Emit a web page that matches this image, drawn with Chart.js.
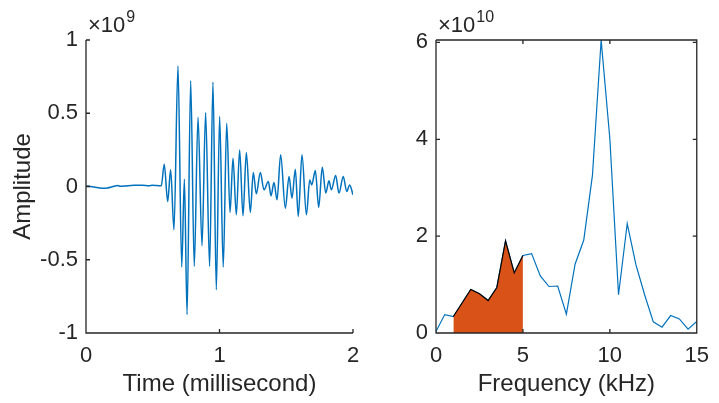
<!DOCTYPE html>
<html>
<head>
<meta charset="utf-8">
<title>Signal and spectrum</title>
<script src="https://cdn.jsdelivr.net/npm/chart.js@4.4.1/dist/chart.umd.min.js"></script>
<style>
  html, body { margin: 0; padding: 0; background: #fff; }
  #wrap { position: relative; width: 719px; height: 403px; overflow: hidden; }
  canvas { position: absolute; top: 0; }
  #c-time { left: 0; width: 370px; height: 403px; }
  #c-freq { left: 370px; width: 349px; height: 403px; }
</style>
</head>
<body>
<div id="wrap">
  <canvas id="c-time" width="370" height="403"></canvas>
  <canvas id="c-freq" width="349" height="403"></canvas>
</div>
<script>
// ---- time signal (amplitude in units of 1e9) ----
const timeMs = [
  0, 0.06, 0.122, 0.16, 0.21, 0.235, 0.26, 0.297, 0.36, 0.422, 0.472, 0.497, 0.534, 0.564,
  0.586, 0.612, 0.634, 0.659, 0.689, 0.717, 0.737, 0.757, 0.784, 0.811, 0.839, 0.869,
  0.896, 0.926, 0.951, 0.976, 1.001, 1.028, 1.054, 1.079, 1.101, 1.126, 1.151, 1.176,
  1.201, 1.231, 1.253, 1.276, 1.306, 1.333, 1.366, 1.386, 1.408, 1.431, 1.458, 1.493,
  1.521, 1.543, 1.568, 1.590, 1.618, 1.651, 1.676, 1.691, 1.718, 1.743, 1.770, 1.796,
  1.820, 1.838, 1.870, 1.895, 1.927, 1.953, 1.975, 2.0
];
const ampE9 = [
  0.004, -0.004, -0.012, -0.010, 0.001, 0.006, 0.001, 0.004, 0.008, 0.008, 0.005, 0.008, 0.006, 0.005,
  0.152, -0.102, 0.114, -0.295, 0.822, -0.549, 0.05, -0.874, 0.722, -0.545, 0.472, -0.404,
  0.504, -0.545, 0.711, -0.704, 0.477, -0.549, 0.431, -0.177, 0.193, -0.193, 0.25, -0.2,
  0.232, -0.177, 0.095, -0.05, 0.095, -0.023, 0.034, -0.064, 0.027, -0.091, 0.216, -0.148,
  0.068, -0.08, 0.118, -0.204, 0.216, -0.193, 0.045, 0.011, 0.109, -0.143, 0.132, -0.045,
  0.039, -0.023, 0.075, -0.045, 0.068, -0.034, 0.011, -0.057
];
const timeTicks = [0, 1, 2];
const ampTicks = [-1, -0.5, 0, 0.5, 1];

// ---- spectrum (power in units of 1e10) ----
const freqKHz = [
  0, 0.5, 1, 1.5, 2, 2.5, 3, 3.5, 4, 4.5, 5, 5.5, 6, 6.5, 7, 7.5,
  8, 8.5, 9, 9.5, 10, 10.5, 11, 11.5, 12, 12.5, 13, 13.5, 14, 14.5, 15
];
const powerE10 = [
  0.03, 0.38, 0.34, 0.62, 0.90, 0.81, 0.67, 0.94, 1.90, 1.24, 1.60, 1.64, 1.18, 0.96, 0.97, 0.39,
  1.42, 1.92, 3.26, 6.05, 4.01, 0.79, 2.26, 1.41, 0.79, 0.23, 0.12, 0.36, 0.29, 0.08, 0.24
];
const bandKHz = [1, 5];          // shaded band
const freqTicks = [0, 5, 10, 15];
const powerTicks = [0, 2, 4, 6];

const FONT = "'Liberation Sans', Arial, Helvetica, sans-serif";
const INK = '#262626';
const BLUE = '#0072BD';
const ORANGE = '#D95319';

const pts = (xs, ys) => xs.map((x, i) => ({ x, y: ys[i] }));

// axes lines, inward ticks and the x10^n multiplier
const matlabAxes = {
  id: 'matlabAxes',
  afterDraw(chart, args, opts) {
    const { ctx, chartArea: a, scales: { x, y } } = chart;
    const len = 4;
    ctx.save();
    ctx.strokeStyle = INK;
    ctx.lineWidth = 1.3;
    ctx.beginPath();
    ctx.moveTo(a.left, a.top); ctx.lineTo(a.left, a.bottom); ctx.lineTo(a.right, a.bottom);
    if (opts.box) { ctx.lineTo(a.right, a.top); ctx.lineTo(a.left, a.top); }
    x.ticks.forEach(t => {
      const p = x.getPixelForValue(t.value);
      ctx.moveTo(p, a.bottom); ctx.lineTo(p, a.bottom - len);
      if (opts.box) { ctx.moveTo(p, a.top); ctx.lineTo(p, a.top + len); }
    });
    y.ticks.forEach(t => {
      const p = y.getPixelForValue(t.value);
      ctx.moveTo(a.left, p); ctx.lineTo(a.left + len, p);
      if (opts.box) { ctx.moveTo(a.right, p); ctx.lineTo(a.right - len, p); }
    });
    ctx.stroke();

    if (opts.exponent) {
      ctx.fillStyle = INK;
      ctx.textBaseline = 'alphabetic';
      ctx.textAlign = 'left';
      ctx.font = '22px ' + FONT;
      const base = '\u00d710';
      ctx.fillText(base, a.left + 2, 32);
      const w = ctx.measureText(base).width;
      ctx.font = '16px ' + FONT;
      ctx.fillText(opts.exponent, a.left + 3 + w, 22);
    }
    ctx.restore();
  }
};

function fixWidth(w) { return s => { s.width = w; }; }
function fixHeight(h) { return s => { s.height = h; }; }

function axisOpts(min, max, ticks, title, size, horizontal) {
  return {
    type: 'linear',
    min, max,
    grid: { display: false, drawTicks: false },
    border: { display: false },
    afterBuildTicks: s => { s.ticks = ticks.map(v => ({ value: v })); },
    afterFit: horizontal ? fixHeight(size) : fixWidth(size),
    ticks: {
      color: INK,
      padding: horizontal ? 10 : 8,
      font: { family: FONT, size: 22 },
      maxRotation: 0,
      callback: v => String(v)
    },
    title: {
      display: true,
      text: title,
      color: INK,
      font: { family: FONT, size: 24 },
      padding: horizontal ? { top: 0, bottom: 4 } : { top: 9, bottom: 0 }
    }
  };
}

const common = {
  responsive: false,
  animation: false,
  events: [],
  plugins: { legend: { display: false }, tooltip: { enabled: false } }
};

// left: waveform
new Chart(document.getElementById('c-time'), {
  type: 'scatter',
  data: {
    datasets: [{
      data: pts(timeMs, ampE9),
      showLine: true,
      borderColor: BLUE,
      borderWidth: 1.5,
      pointRadius: 0,
      cubicInterpolationMode: 'monotone'
    }]
  },
  options: {
    ...common,
    layout: { padding: { top: 40, right: 17, bottom: 0, left: 0 } },
    scales: {
      x: axisOpts(0, 2, timeTicks, 'Time (millisecond)', 70, true),
      y: axisOpts(-1, 1, ampTicks, 'Amplitude', 86, false)
    },
    plugins: { ...common.plugins, matlabAxes: { box: false, exponent: '9' } }
  },
  plugins: [matlabAxes]
});

// right: spectrum with shaded band
const i0 = freqKHz.indexOf(bandKHz[0]);
const i1 = freqKHz.indexOf(bandKHz[1]);
new Chart(document.getElementById('c-freq'), {
  type: 'scatter',
  data: {
    datasets: [
      {
        data: pts(freqKHz.slice(i0, i1 + 1), powerE10.slice(i0, i1 + 1)),
        showLine: true,
        fill: 'origin',
        backgroundColor: ORANGE,
        borderColor: '#000',
        borderWidth: 1.2,
        pointRadius: 0
      },
      {
        data: pts(freqKHz, powerE10),
        showLine: true,
        borderColor: BLUE,
        borderWidth: 1.2,
        pointRadius: 0
      }
    ]
  },
  options: {
    ...common,
    layout: { padding: { top: 40, right: 15, bottom: 0, left: 0 } },
    scales: {
      x: axisOpts(0, 15, freqTicks, 'Frequency (kHz)', 70, true),
      y: axisOpts(0, 6.05, powerTicks, '', 66, false)
    },
    plugins: { ...common.plugins, matlabAxes: { box: true, exponent: '10' } }
  },
  plugins: [matlabAxes]
});
</script>
</body>
</html>
